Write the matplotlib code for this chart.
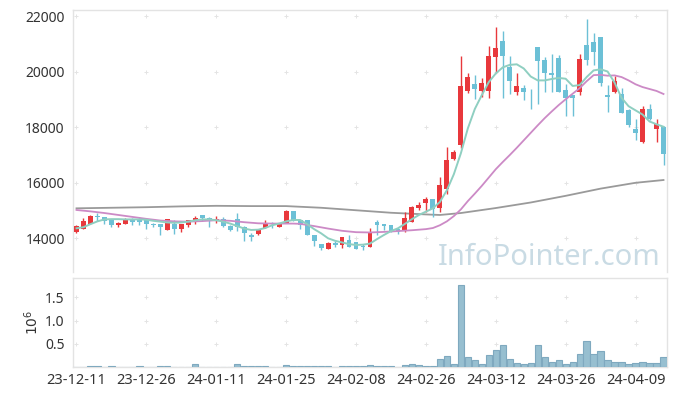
import numpy as np
import matplotlib.pyplot as plt

plt.rcParams['font.family'] = ['Noto Sans', 'DejaVu Sans']

# ---- data (daily candles, KRW) ----
tick_labels = ["23-12-11", "23-12-26", "24-01-11", "24-01-25", "24-02-08",
               "24-02-26", "24-03-12", "24-03-26", "24-04-09"]

opens = [14230, 14340, 14520, 14790, 14745, 14650, 14460, 14520, 14650, 14650,
         14650, 14520, 14500, 14290, 14500, 14330, 14470, 14650, 14820, 14720,
         14625, 14680, 14430, 14670, 14410, 14100, 14150, 14370, 14540, 14390,
         14550, 14970, 14650, 14650, 14110, 13770, 13615, 13810, 13750, 13930,
         13840, 13720, 13680, 14580, 14500, 14470, 14330, 14270, 14570, 15090,
         15270, 15400, 15070, 15750, 16840, 17350, 19290, 19550, 19280, 19310,
         20535, 21100, 20160, 19270, 19390, 19310, 20870, 20410, 19930, 20475,
         19330, 19150, 19270, 20960, 21050, 21230, 19140, 19270, 19190, 18610,
         17930, 17470, 18650, 17940, 18010]
closes = [14430, 14610, 14790, 14745, 14625, 14480, 14530, 14670, 14590, 14580,
          14500, 14470, 14410, 14670, 14310, 14500, 14650, 14730, 14730, 14610,
          14700, 14445, 14290, 14380, 14190, 14050, 14290, 14550, 14515, 14530,
          14970, 14610, 14460, 14110, 13900, 13650, 13830, 13750, 14020, 13690,
          13615, 13690, 14200, 14460, 14430, 14230, 14210, 14720, 15120, 15190,
          15410, 15040, 15910, 16810, 17090, 19480, 19810, 19370, 19600, 20560,
          20850, 20570, 19670, 19480, 19270, 19280, 20390, 19960, 19890, 19273,
          19030, 19060, 20450, 20415, 20720, 19600, 19090, 19660, 18520, 18070,
          17800, 18640, 18280, 18110, 17030]
highs = [14460, 14710, 14830, 14900, 14760, 14660, 14565, 14730, 14710, 14740,
         14660, 14540, 14520, 14680, 14650, 14510, 14660, 14790, 14830, 14760,
         14790, 14760, 14460, 14890, 14420, 14190, 14340, 14650, 14590, 14550,
         15000, 14980, 14660, 14660, 14120, 13780, 13850, 13890, 14030, 14100,
         13850, 13770, 14360, 14650, 14520, 14480, 14350, 14920, 15140, 15310,
         15490, 15410, 16200, 17290, 17170, 20550, 19960, 19870, 19760, 20920,
         21620, 21470, 20570, 19960, 19510, 19360, 20870, 20540, 20620, 20600,
         19550, 19170, 20620, 21880, 21380, 21240, 19500, 19830, 19400, 18650,
         18280, 18760, 18830, 18280, 18050]
lows = [14190, 14320, 14500, 14600, 14490, 14410, 14385, 14500, 14480, 14470,
        14340, 14410, 14120, 14280, 14130, 14230, 14380, 14510, 14600, 14400,
        14530, 14410, 14240, 14240, 13910, 13900, 14110, 14350, 14350, 14380,
        14540, 14600, 14330, 14100, 13720, 13580, 13600, 13680, 13640, 13660,
        13600, 13570, 13670, 14110, 14290, 14220, 14150, 14230, 14560, 15000,
        14950, 14770, 14950, 15600, 16800, 17240, 19240, 19000, 19080, 19030,
        19960, 19030, 19190, 19150, 18970, 18640, 18820, 19270, 19270, 19270,
        18400, 18400, 19150, 20230, 20230, 19470, 18530, 19210, 18510, 18000,
        17530, 17410, 18250, 17470, 16630]
volumes = [4000, 4000, 20000, 20000, 4000, 20000, 4000, 4000, 4000, 20000,
           4000, 4000, 20000, 20000, 4000, 4000, 4000, 60000, 4000, 4000,
           4000, 4000, 4000, 60000, 20000, 20000, 20000, 20000, 4000, 4000,
           35000, 20000, 20000, 20000, 20000, 20000, 20000, 4000, 20000, 20000,
           20000, 20000, 50000, 30000, 12000, 12000, 3000, 50000, 70000, 50000,
           30000, 30000, 180000, 230000, 70000, 1760000, 210000, 160000, 70000, 265000,
           355000, 465000, 180000, 95000, 70000, 95000, 465000, 205000, 115000, 160000,
           70000, 115000, 290000, 550000, 290000, 340000, 160000, 115000, 115000, 70000,
           95000, 115000, 95000, 95000, 225000]

# moving averages as drawn on the chart
ma5 = [14350, 14390, 14500, 14600, 14670, 14680, 14680, 14670, 14670, 14670,
       14660, 14620, 14590, 14560, 14550, 14560, 14590, 14640, 14670, 14670,
       14640, 14590, 14520, 14430, 14340, 14290, 14300, 14360, 14460, 14520,
       14600, 14650, 14650, 14500, 14320, 14170, 13990, 13900, 13840, 13780,
       13750, 13760, 13800, 13960, 14110, 14250, 14350, 14510, 14680, 14830,
       14950, 15070, 15300, 15720, 16300, 17050, 17950, 18650, 19150, 19620,
       19930, 20150, 20240, 20260, 20110, 19820, 19680, 19680, 19730, 19770,
       19740, 19480, 19510, 19800, 20040, 20080, 20000, 19600, 19050, 18750,
       18600, 18450, 18200, 18100, 18010]
ma20 = [15010, 14985, 14960, 14930, 14900, 14865, 14830, 14795, 14760, 14725,
        14690, 14660, 14630, 14615, 14600, 14595, 14590, 14600, 14610, 14625,
        14640, 14630, 14620, 14595, 14570, 14550, 14530, 14525, 14520, 14520,
        14520, 14520, 14510, 14470, 14430, 14385, 14340, 14300, 14260, 14235,
        14210, 14205, 14200, 14210, 14220, 14235, 14250, 14265, 14280, 14300,
        14320, 14360, 14460, 14600, 14790, 15030, 15330, 15600, 15880, 16180,
        16480, 16740, 16990, 17250, 17520, 17790, 18060, 18320, 18560, 18790,
        19000, 19200, 19400, 19650, 19870, 19880, 19850, 19860, 19800, 19680,
        19540, 19440, 19370, 19300, 19190]
ma60_idx = [0, 5, 10, 15, 20, 25, 30, 35, 40, 45, 50, 52, 55, 60, 65, 70, 75, 80, 84]
ma60 = [15070, 15090, 15110, 15140, 15160, 15150, 15150, 15090, 15000, 14910,
        14850, 14830, 14900, 15080, 15280, 15520, 15780, 15990, 16090]

# ---- figure ----
W, H = 677, 396
fig = plt.figure(figsize=(W / 100, H / 100), dpi=100)
ax = fig.add_axes([73 / W, 1 - 272 / H, 594 / W, 262 / H])
axv = fig.add_axes([73 / W, 1 - 367 / H, 594 / W, 89 / H], sharex=ax)

x = np.arange(len(closes))
o = np.array(opens)
c = np.array(closes)
up = c >= o
red, blue = '#e8383c', '#6cc0d6'
col = np.where(up, red, blue)

ax.vlines(x, lows, highs, colors=col, linewidth=1, zorder=3)
body_h = np.maximum(np.abs(c - o), 25)
ax.bar(x, body_h, bottom=np.minimum(o, c), width=0.7, color=col, zorder=4)

ax.plot(ma60_idx, ma60, color='#9a9a9a', lw=1.3, zorder=2)
ax.plot(x, ma20, color='#cc8ac6', lw=1.3, zorder=5)
ax.plot(x, ma5, color='#8fcfc1', lw=1.4, zorder=5)

axv.bar(x, np.array(volumes) / 1e6, width=0.9, color='#97bfd0',
        edgecolor='#7fa9bf', linewidth=0.8, zorder=3)

ax.set_xlim(-0.5, 84.5)
ax.set_ylim(12775, 22217)
axv.set_ylim(0, 1.914)

ticks = np.arange(0, len(closes), 10)
ax.set_yticks([14000, 16000, 18000, 20000, 22000])
axv.set_yticks([0.5, 1.0, 1.5])
axv.set_yticklabels(['0.5', '1.0', '1.5'])
axv.set_xticks(ticks)
axv.set_xticklabels(tick_labels)
ax.tick_params(axis='x', labelbottom=False, length=0)
ax.tick_params(axis='y', length=0, pad=6, labelsize=10, labelcolor='#333333')
axv.tick_params(axis='y', length=0, pad=6, labelsize=10, labelcolor='#333333')
axv.tick_params(axis='x', length=0, pad=4, labelsize=10.5, labelcolor='#333333')
fig.text(33 / W, 1 - 322 / H, '$10^6$', rotation=90, ha='center', va='center',
         fontsize=10, color='#333333')

for a in (ax, axv):
    for s in a.spines.values():
        s.set_color('#e3e3e3')
        s.set_linewidth(1)
ax.spines['bottom'].set_visible(False)

# "+" grid marks at tick intersections
gx, gy = np.meshgrid(ticks, [14000, 16000, 18000, 20000, 22000])
ax.scatter(gx.ravel(), gy.ravel(), marker='+', s=12, color='#e4e4e4', lw=0.7, zorder=1)
gx, gy = np.meshgrid(ticks, [0.5, 1.0, 1.5])
axv.scatter(gx.ravel(), gy.ravel(), marker='+', s=12, color='#e4e4e4', lw=0.7, zorder=1)

ax.text(0.99, 0.0, 'InfoPointer.com', transform=ax.transAxes, ha='right',
        va='bottom', fontsize=21, color='#c9dbe4', zorder=0)

fig.savefig('out.png', dpi=100)
